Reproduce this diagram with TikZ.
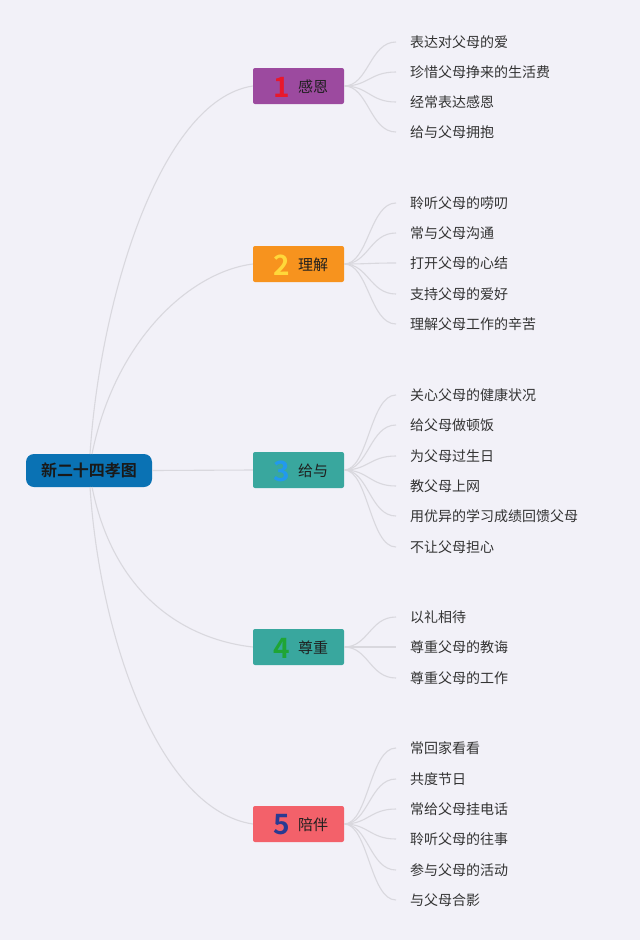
\documentclass[tikz,border=0pt]{standalone}
\usepackage{fontspec}
\newfontfamily\cjk{Noto Sans CJK SC}[BoldFont={Noto Sans CJK SC Bold}]
\definecolor{bgc}{HTML}{F2F1F8}
\definecolor{linec}{HTML}{D9D8DE}
\definecolor{rootc}{HTML}{0A72B4}
\definecolor{purplec}{HTML}{9C4A9F}
\definecolor{orangec}{HTML}{F7931E}
\definecolor{tealc}{HTML}{39A79E}
\definecolor{redc}{HTML}{F3616A}
\definecolor{numa}{HTML}{E8182C}
\definecolor{numb}{HTML}{FFD83A}
\definecolor{numc}{HTML}{2299EE}
\definecolor{numd}{HTML}{1FA535}
\definecolor{nume}{HTML}{2A3A92}
\definecolor{leaftext}{HTML}{333333}
\tikzset{
  rootbox/.style={fill=rootc, rounded corners=8pt, minimum width=126pt, minimum height=33pt, inner sep=0pt,
    font=\cjk\bfseries\fontsize{16}{18}\selectfont, text=black!90},
  branchbox/.style={fill=#1, rounded corners=2pt, minimum width=91pt, minimum height=36pt, inner sep=0pt},
  numtext/.style={inner sep=0pt, text=#1, font=\cjk\bfseries\fontsize{28}{28}\selectfont},
  btext/.style={inner sep=0pt, text=black!88, font=\cjk\fontsize{15}{17}\selectfont},
  leaf/.style={anchor=west, inner sep=0pt, font=\cjk\fontsize{14}{16}\selectfont, text=leaftext},
  mainline/.style={draw=linec, line width=1.1pt},
  leafline/.style={draw=linec, line width=1.1pt},
}
\begin{document}
\begin{tikzpicture}[x=1pt,y=-1pt]
\fill[bgc] (0,0) rectangle (640,940);
\useasboundingbox (0,0) rectangle (640,940);

\node[rootbox] (root) at (89,470.5) {新二十四孝图};

\foreach \i/\y/\c/\nc/\d/\t in {1/86/purplec/numa/1/感恩, 2/264/orangec/numb/2/理解, 3/470/tealc/numc/3/给与, 4/647/tealc/numd/4/尊重, 5/824/redc/nume/5/陪伴}{
  \node[branchbox=\c] (b\i) at (298.5,\y) {};
  \node[numtext=\nc] (n\i) at ([xshift=-17pt,yshift=-1pt]b\i.center) {\d};
  \node[btext] (t\i) at ([xshift=14.5pt,yshift=-1pt]b\i.center) {\t};
}

\coordinate (rt1) at (90,454);
\coordinate (rt2) at (92,454);
\coordinate (rb4) at (92,487);
\coordinate (rb5) at (90,487);

\draw[mainline] (rt1) .. controls (100,300) and (160,100) .. (b1.west);
\draw[mainline] (rt2) .. controls (115,340) and (190,272) .. (b2.west);
\draw[mainline] (root.east) -- (b3.west);
\draw[mainline] (rb4) .. controls (115,600) and (190,640) .. (b4.west);
\draw[mainline] (rb5) .. controls (100,640) and (160,810) .. (b5.west);

% leaves
\foreach \n/\y/\t in {a/42/表达对父母的爱, b/72/珍惜父母挣来的生活费, c/102/经常表达感恩, d/132/给与父母拥抱}{
  \node[leaf] (l1\n) at (410,\y) {\t};
  \draw[leafline] (b1.east) .. controls +(24,0) and +(-26,0) .. ([xshift=-14pt]l1\n.west);
}
\foreach \n/\y/\t in {a/203/聆听父母的唠叨, b/233/常与父母沟通, c/263/打开父母的心结, d/294/支持父母的爱好, e/324/理解父母工作的辛苦}{
  \node[leaf] (l2\n) at (410,\y) {\t};
  \draw[leafline] (b2.east) .. controls +(24,0) and +(-26,0) .. ([xshift=-14pt]l2\n.west);
}
\foreach \n/\y/\t in {a/395/关心父母的健康状况, b/425/给父母做顿饭, c/456/为父母过生日, d/486/教父母上网, e/516/用优异的学习成绩回馈父母, f/547/不让父母担心}{
  \node[leaf] (l3\n) at (410,\y) {\t};
  \draw[leafline] (b3.east) .. controls +(24,0) and +(-26,0) .. ([xshift=-14pt]l3\n.west);
}
\foreach \n/\y/\t in {a/617/以礼相待, b/647/尊重父母的教诲, c/678/尊重父母的工作}{
  \node[leaf] (l4\n) at (410,\y) {\t};
  \draw[leafline] (b4.east) .. controls +(24,0) and +(-26,0) .. ([xshift=-14pt]l4\n.west);
}
\foreach \n/\y/\t in {a/748/常回家看看, b/779/共度节日, c/809/常给父母挂电话, d/839/聆听父母的往事, e/870/参与父母的活动, f/900/与父母合影}{
  \node[leaf] (l5\n) at (410,\y) {\t};
  \draw[leafline] (b5.east) .. controls +(24,0) and +(-26,0) .. ([xshift=-14pt]l5\n.west);
}
\end{tikzpicture}
\end{document}
